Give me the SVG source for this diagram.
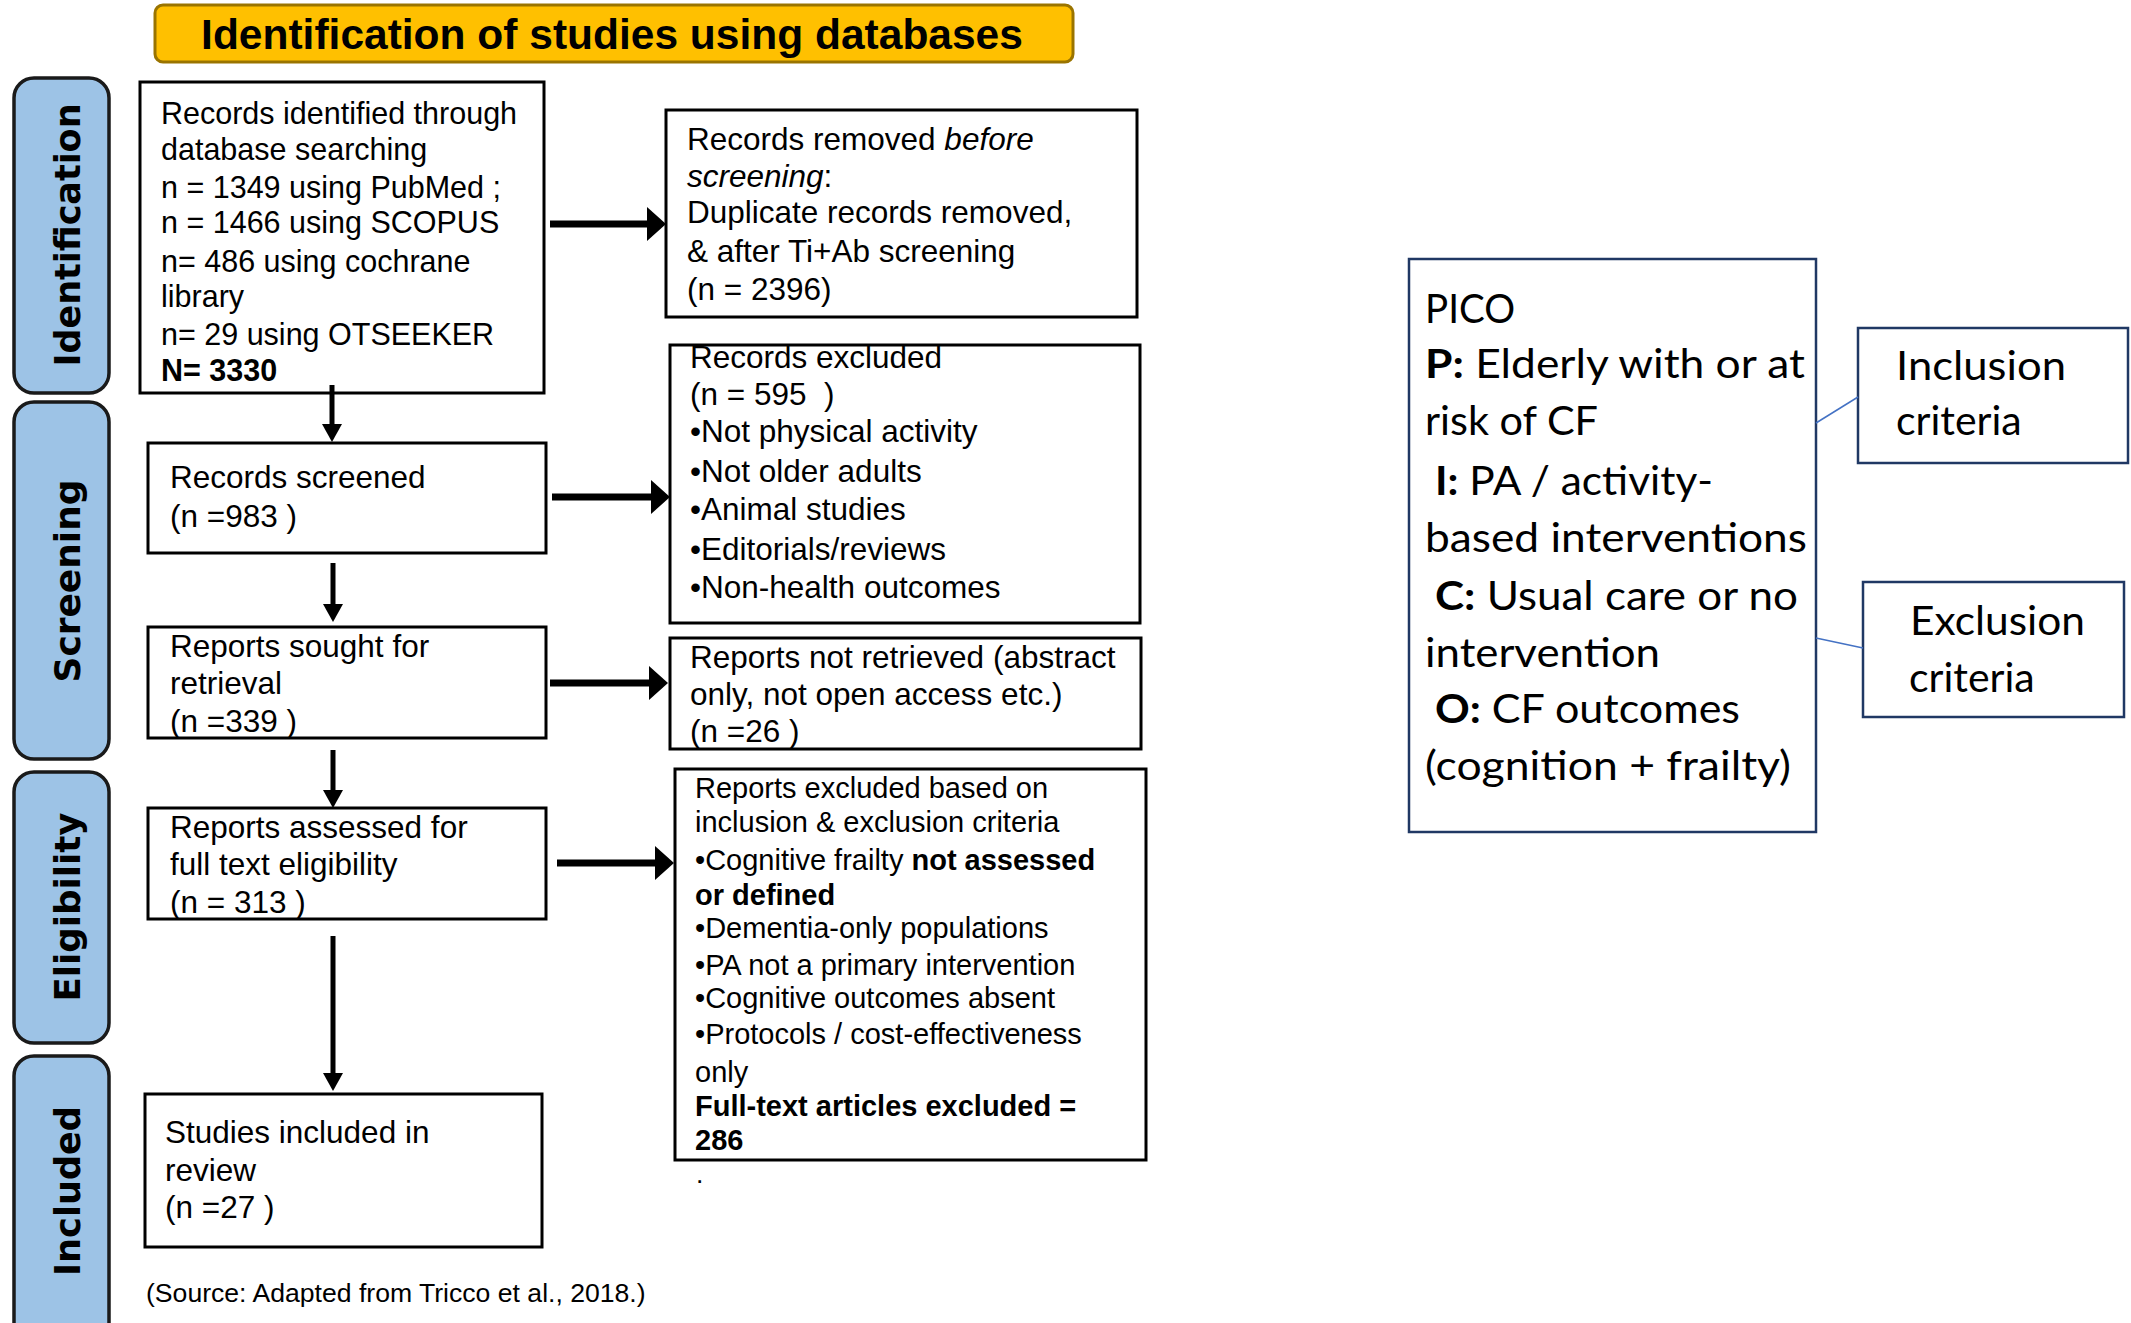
<svg xmlns="http://www.w3.org/2000/svg" width="2131" height="1323" viewBox="0 0 2131 1323">
<style>
.t{font-family:"Liberation Sans",Arial,Helvetica,sans-serif;fill:#000}
.s30{font-size:30.5px}
.s31{font-size:31.5px}
.s29{font-size:29px}
.s26{font-size:26.6px}
.b{font-weight:bold}
.i{font-style:italic}
.box{fill:#fff;stroke:#000;stroke-width:3}
.phase{fill:#9DC3E6;stroke:#1a1a1a;stroke-width:3.5}
.plab{font-family:"DejaVu Sans",Verdana,sans-serif;font-weight:bold;font-size:36px;fill:#000;text-anchor:middle}
.title{fill:#FFC000;stroke:#9A7400;stroke-width:3}
.ttl{font-family:"Liberation Sans",Arial,sans-serif;font-weight:bold;font-size:42.5px;fill:#000;text-anchor:middle}
.hline{stroke:#000;stroke-width:7;fill:none}
.vline{stroke:#000;stroke-width:5;fill:none}
.pbox{fill:#fff;stroke:#203864;stroke-width:2.5}
.ptxt{font-family:Lato,"Open Sans",sans-serif;font-size:41px;fill:#000}
.blue{stroke:#4472C4;stroke-width:1.5;fill:none}
</style>
<defs>
<marker id="ah" markerUnits="userSpaceOnUse" markerWidth="19" markerHeight="34" viewBox="0 0 19 34" refX="0" refY="17" orient="auto"><path d="M0,0 L19,17 L0,34 Z" fill="#000"/></marker>
<marker id="av" markerUnits="userSpaceOnUse" markerWidth="18" markerHeight="20" viewBox="0 0 18 20" refX="0" refY="10" orient="auto"><path d="M0,0 L18,10 L0,20 Z" fill="#000"/></marker>
</defs>
<rect width="2131" height="1323" fill="#fff"/>

<g id="title">
<rect class="title" x="155" y="5" width="918" height="57" rx="8"/>
<text class="ttl" x="612" y="49">Identification of studies using databases</text>
</g>

<g id="phase-identification">
<rect class="phase" x="14" y="78" width="95" height="315" rx="20"/>
<text class="plab" transform="translate(80,235) rotate(-90)" textLength="263" lengthAdjust="spacingAndGlyphs">Identification</text>
</g>
<g id="phase-screening">
<rect class="phase" x="14" y="402" width="95" height="357" rx="20"/>
<text class="plab" transform="translate(80,581) rotate(-90)" textLength="203" lengthAdjust="spacingAndGlyphs">Screening</text>
</g>
<g id="phase-eligibility">
<rect class="phase" x="14" y="772" width="95" height="271" rx="20"/>
<text class="plab" transform="translate(80,907) rotate(-90)" textLength="189" lengthAdjust="spacingAndGlyphs">Eligibility</text>
</g>
<g id="phase-included">
<rect class="phase" x="14" y="1056" width="95" height="290" rx="20"/>
<text class="plab" transform="translate(80,1191) rotate(-90)" textLength="170" lengthAdjust="spacingAndGlyphs">Included</text>
</g>

<g id="records-identified">
<rect class="box" x="140" y="82" width="404" height="311"/>
<text class="t s30">
<tspan x="161" y="124">Records identified through</tspan>
<tspan x="161" y="160">database searching</tspan>
<tspan x="161" y="198">n = 1349 using PubMed ;</tspan>
<tspan x="161" y="233">n = 1466 using SCOPUS</tspan>
<tspan x="161" y="272">n= 486 using cochrane</tspan>
<tspan x="161" y="307">library</tspan>
<tspan x="161" y="345">n= 29 using OTSEEKER</tspan>
<tspan x="161" y="381" class="b">N= 3330</tspan>
</text>
</g>

<g id="records-removed">
<rect class="box" x="666" y="110" width="471" height="207"/>
<text class="t s31">
<tspan x="687" y="150">Records removed <tspan class="i">before</tspan></tspan>
<tspan x="687" y="187"><tspan class="i">screening</tspan>:</tspan>
<tspan x="687" y="223">Duplicate records removed,</tspan>
<tspan x="687" y="262">&amp; after Ti+Ab screening</tspan>
<tspan x="687" y="300">(n = 2396)</tspan>
</text>
</g>

<g id="records-screened">
<rect class="box" x="148" y="443" width="398" height="110"/>
<text class="t s31">
<tspan x="170" y="488">Records screened</tspan>
<tspan x="170" y="527">(n =983 )</tspan>
</text>
</g>

<g id="records-excluded">
<rect class="box" x="670" y="345" width="470" height="278"/>
<text class="t s31">
<tspan x="690" y="368">Records excluded</tspan>
<tspan x="690" y="405">(n = 595&#160;&#160;)</tspan>
<tspan x="690" y="442">•Not physical activity</tspan>
<tspan x="690" y="482">•Not older adults</tspan>
<tspan x="690" y="520">•Animal studies</tspan>
<tspan x="690" y="560">•Editorials/reviews</tspan>
<tspan x="690" y="598">•Non-health outcomes</tspan>
</text>
</g>

<g id="reports-sought">
<rect class="box" x="148" y="627" width="398" height="111"/>
<text class="t s31">
<tspan x="170" y="657">Reports sought for</tspan>
<tspan x="170" y="694">retrieval</tspan>
<tspan x="170" y="732">(n =339 )</tspan>
</text>
</g>

<g id="reports-not-retrieved">
<rect class="box" x="670" y="638" width="471" height="111"/>
<text class="t s31">
<tspan x="690" y="668">Reports not retrieved (abstract</tspan>
<tspan x="690" y="705">only, not open access etc.)</tspan>
<tspan x="690" y="742">(n =26 )</tspan>
</text>
</g>

<g id="reports-assessed">
<rect class="box" x="148" y="808" width="398" height="111"/>
<text class="t s31">
<tspan x="170" y="838">Reports assessed for</tspan>
<tspan x="170" y="875">full text eligibility</tspan>
<tspan x="170" y="913">(n = 313 )</tspan>
</text>
</g>

<g id="reports-excluded">
<rect class="box" x="675" y="769" width="471" height="391"/>
<text class="t s29">
<tspan x="695" y="798">Reports excluded based on</tspan>
<tspan x="695" y="832">inclusion &amp; exclusion criteria</tspan>
<tspan x="695" y="870">•Cognitive frailty <tspan class="b">not assessed</tspan></tspan>
<tspan x="695" y="905" class="b">or defined</tspan>
<tspan x="695" y="938">•Dementia-only populations</tspan>
<tspan x="695" y="975">•PA not a primary intervention</tspan>
<tspan x="695" y="1008">•Cognitive outcomes absent</tspan>
<tspan x="695" y="1044">•Protocols / cost-effectiveness</tspan>
<tspan x="695" y="1082">only</tspan>
<tspan x="695" y="1116" class="b">Full-text articles excluded =</tspan>
<tspan x="695" y="1150" class="b">286</tspan>
</text>
<text class="t s26" x="696" y="1183">.</text>
</g>

<g id="studies-included">
<rect class="box" x="145" y="1094" width="397" height="153"/>
<text class="t s31">
<tspan x="165" y="1143">Studies included in</tspan>
<tspan x="165" y="1181">review</tspan>
<tspan x="165" y="1218">(n =27 )</tspan>
</text>
</g>

<g id="source">
<text class="t s26" x="146" y="1302">(Source: Adapted from Tricco et al., 2018.)</text>
</g>

<g id="pico">
<rect class="pbox" x="1409" y="259" width="407" height="573"/>
<text class="ptxt" x="1425" y="323" textLength="90" lengthAdjust="spacingAndGlyphs">PICO</text>
<text class="ptxt" x="1425" y="378" textLength="380" lengthAdjust="spacingAndGlyphs"><tspan font-weight="bold">P:</tspan> Elderly with or at</text>
<text class="ptxt" x="1425" y="435" textLength="173" lengthAdjust="spacingAndGlyphs">risk of CF</text>
<text class="ptxt" x="1435" y="495" textLength="278" lengthAdjust="spacingAndGlyphs"><tspan font-weight="bold">I:</tspan> PA / activity-</text>
<text class="ptxt" x="1425" y="552" textLength="382" lengthAdjust="spacingAndGlyphs">based interventions</text>
<text class="ptxt" x="1435" y="610" textLength="363" lengthAdjust="spacingAndGlyphs"><tspan font-weight="bold">C:</tspan> Usual care or no</text>
<text class="ptxt" x="1425" y="667" textLength="235" lengthAdjust="spacingAndGlyphs">intervention</text>
<text class="ptxt" x="1435" y="723" textLength="305" lengthAdjust="spacingAndGlyphs"><tspan font-weight="bold">O:</tspan> CF outcomes</text>
<text class="ptxt" x="1425" y="780" textLength="366" lengthAdjust="spacingAndGlyphs">(cognition + frailty)</text>
</g>

<g id="inclusion-criteria">
<rect class="pbox" x="1858" y="328" width="270" height="135"/>
<text class="ptxt" x="1896" y="380" textLength="170" lengthAdjust="spacingAndGlyphs">Inclusion</text>
<text class="ptxt" x="1896" y="435">criteria</text>
</g>

<g id="exclusion-criteria">
<rect class="pbox" x="1863" y="582" width="261" height="135"/>
<text class="ptxt" x="1910" y="635" textLength="175" lengthAdjust="spacingAndGlyphs">Exclusion</text>
<text class="ptxt" x="1909" y="692">criteria</text>
</g>

<g id="connectors">
<line class="vline" x1="332" y1="385" x2="332" y2="424" marker-end="url(#av)"/>
<line class="vline" x1="333" y1="563" x2="333" y2="604" marker-end="url(#av)"/>
<line class="vline" x1="333" y1="750" x2="333" y2="790" marker-end="url(#av)"/>
<line class="vline" x1="333" y1="936" x2="333" y2="1073" marker-end="url(#av)"/>
<line class="hline" x1="550" y1="224" x2="647" y2="224" marker-end="url(#ah)"/>
<line class="hline" x1="552" y1="497" x2="651" y2="497" marker-end="url(#ah)"/>
<line class="hline" x1="550" y1="683" x2="649" y2="683" marker-end="url(#ah)"/>
<line class="hline" x1="557" y1="863" x2="655" y2="863" marker-end="url(#ah)"/>
<line class="blue" x1="1816" y1="423" x2="1858" y2="397"/>
<line class="blue" x1="1816" y1="638" x2="1863" y2="648"/>
</g>
</svg>
